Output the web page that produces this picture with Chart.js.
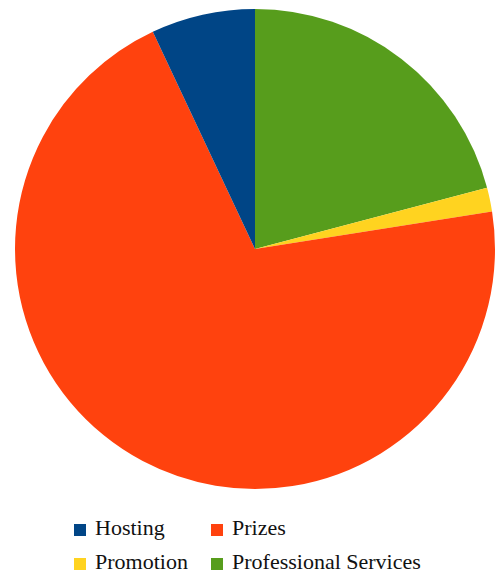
<!DOCTYPE html>
<html lang="en">
<head>
    <meta charset="UTF-8">
    <title>Budget</title>
    <script src="https://cdn.jsdelivr.net/npm/chart.js"></script>
    <style>
        body { margin: 0; background: #fff; width: 496px; height: 571px; position: relative; overflow: hidden; }
        #pie { position: absolute; left: 0; top: 0; }
        #legend { position: absolute; left: 74px; top: 514px; width: 400px; }
        .item { position: absolute; display: block; height: 27px; line-height: 27px; white-space: nowrap;
                font-family: 'Liberation Serif', 'Times New Roman', serif; font-size: 22px; color: #111; }
        .box { display: inline-block; width: 12px; height: 12px; margin-right: 9px; vertical-align: -1px; }
    </style>
</head>
<body>
    <canvas id="pie" width="496" height="500"></canvas>
    <div id="legend"></div>

    <script>
        // legend order (the original pie goes counter-clockwise in this order)
        const labels = ["Hosting", "Prizes", "Promotion", "Professional Services"];
        const values = [7.0, 70.5, 1.6, 20.9];   // percent
        const colors = ["#004586", "#ff420e", "#ffd320", "#579d1c"];

        // build the legend as html, 2 per row
        const legend = document.getElementById("legend");
        labels.forEach((name, i) => {
            const item = document.createElement("div");
            item.className = "item";
            item.style.left = (i % 2) * 137 + "px";
            item.style.top = Math.floor(i / 2) * 34 + "px";
            item.innerHTML = '<span class="box" style="background:' + colors[i] + '"></span>' + name;
            legend.appendChild(item);
        });

        // chart.js goes clockwise, so feed it reversed
        const ctx = document.getElementById("pie").getContext("2d");
        new Chart(ctx, {
            type: "pie",
            data: {
                labels: labels.slice().reverse(),
                datasets: [{
                    data: values.slice().reverse(),
                    backgroundColor: colors.slice().reverse(),
                    borderWidth: 0
                }]
            },
            options: {
                responsive: false,
                animation: false,
                layout: { padding: { left: 15, right: 1, top: 9, bottom: 11 } },
                plugins: { legend: { display: false }, tooltip: { enabled: false } }
            }
        });
    </script>
</body>
</html>
